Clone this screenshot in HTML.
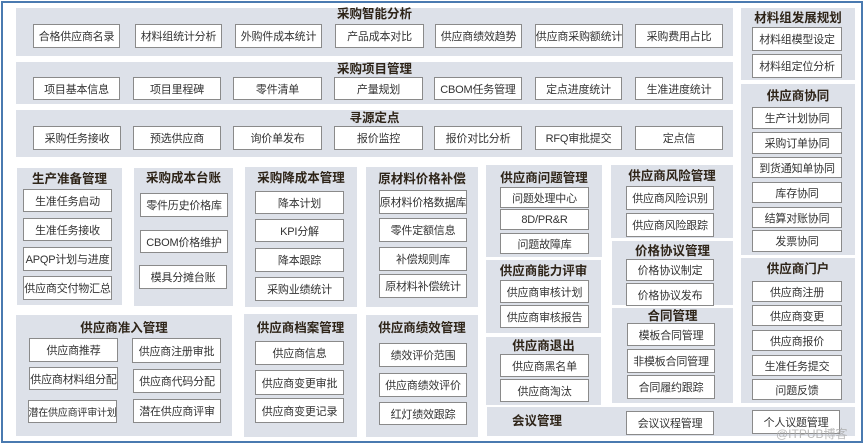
<!DOCTYPE html>
<html><head><meta charset="utf-8"><style>
*{margin:0;padding:0;box-sizing:border-box}
body{width:865px;height:445px;background:#fff;position:relative;overflow:hidden;font-family:"Liberation Sans","Noto Sans CJK SC",sans-serif}
#frame{position:absolute;left:1px;top:1px;width:862px;height:442px;border:2px solid #4a7ab0}
.p{position:absolute;background:#dde1e9}
.t{position:absolute;font-weight:bold;font-size:12.5px;line-height:14px;color:#2e2418;white-space:nowrap;text-align:center}
.b{position:absolute;background:#fff;border:1.5px solid #8a8a8a;font-size:11px;color:#333;display:flex;align-items:center;justify-content:center;white-space:nowrap;overflow:hidden;letter-spacing:-0.2px}
</style></head><body>
<div id="frame"></div>

<div class="p" style="left:16px;top:8px;width:717px;height:48px"></div>
<div class="t" style="left:16px;top:7px;width:717px">采购智能分析</div>
<div class="b" style="left:33px;top:24px;width:87px;height:24px">合格供应商名录</div>
<div class="b" style="left:135px;top:24px;width:87px;height:24px">材料组统计分析</div>
<div class="b" style="left:235px;top:24px;width:87px;height:24px">外购件成本统计</div>
<div class="b" style="left:335px;top:24px;width:89px;height:24px">产品成本对比</div>
<div class="b" style="left:435px;top:24px;width:87px;height:24px">供应商绩效趋势</div>
<div class="b" style="left:535px;top:24px;width:88px;height:24px">供应商采购额统计</div>
<div class="b" style="left:635px;top:24px;width:88px;height:24px">采购费用占比</div>

<div class="p" style="left:16px;top:62px;width:717px;height:42px"></div>
<div class="t" style="left:16px;top:62px;width:717px">采购项目管理</div>
<div class="b" style="left:33px;top:77px;width:87px;height:23px">项目基本信息</div>
<div class="b" style="left:133px;top:77px;width:88px;height:23px">项目里程碑</div>
<div class="b" style="left:233px;top:77px;width:89px;height:23px">零件清单</div>
<div class="b" style="left:334px;top:77px;width:89px;height:23px">产量规划</div>
<div class="b" style="left:434px;top:77px;width:88px;height:23px">CBOM任务管理</div>
<div class="b" style="left:535px;top:77px;width:87px;height:23px">定点进度统计</div>
<div class="b" style="left:635px;top:77px;width:88px;height:23px">生准进度统计</div>

<div class="p" style="left:16px;top:110px;width:717px;height:47px"></div>
<div class="t" style="left:16px;top:111px;width:717px">寻源定点</div>
<div class="b" style="left:33px;top:126px;width:88px;height:24px">采购任务接收</div>
<div class="b" style="left:133px;top:126px;width:88px;height:24px">预选供应商</div>
<div class="b" style="left:233px;top:126px;width:89px;height:24px">询价单发布</div>
<div class="b" style="left:334px;top:126px;width:89px;height:24px">报价监控</div>
<div class="b" style="left:434px;top:126px;width:88px;height:24px">报价对比分析</div>
<div class="b" style="left:535px;top:126px;width:87px;height:24px">RFQ审批提交</div>
<div class="b" style="left:635px;top:126px;width:88px;height:24px">定点信</div>

<div class="p" style="left:741px;top:8px;width:114px;height:72px"></div>
<div class="t" style="left:741px;top:11px;width:114px">材料组发展规划</div>
<div class="b" style="left:752px;top:27px;width:90px;height:24px">材料组模型设定</div>
<div class="b" style="left:752px;top:54px;width:90px;height:24px">材料组定位分析</div>

<div class="p" style="left:741px;top:84px;width:114px;height:171px"></div>
<div class="t" style="left:741px;top:89px;width:114px">供应商协同</div>
<div class="b" style="left:752px;top:107px;width:90px;height:22px">生产计划协同</div>
<div class="b" style="left:752px;top:132px;width:90px;height:22px">采购订单协同</div>
<div class="b" style="left:752px;top:157px;width:90px;height:21px">到货通知单协同</div>
<div class="b" style="left:752px;top:182px;width:90px;height:21px">库存协同</div>
<div class="b" style="left:752px;top:207px;width:90px;height:21px">结算对账协同</div>
<div class="b" style="left:752px;top:230px;width:90px;height:22px">发票协同</div>

<div class="p" style="left:741px;top:258px;width:114px;height:145px"></div>
<div class="t" style="left:741px;top:262px;width:114px">供应商门户</div>
<div class="b" style="left:752px;top:281px;width:90px;height:21px">供应商注册</div>
<div class="b" style="left:752px;top:305px;width:90px;height:21px">供应商变更</div>
<div class="b" style="left:752px;top:330px;width:90px;height:21px">供应商报价</div>
<div class="b" style="left:752px;top:355px;width:90px;height:21px">生准任务提交</div>
<div class="b" style="left:752px;top:379px;width:90px;height:21px">问题反馈</div>

<div class="p" style="left:17px;top:168px;width:105px;height:137px"></div>
<div class="t" style="left:17px;top:172px;width:105px">生产准备管理</div>
<div class="b" style="left:23px;top:189px;width:89px;height:23px">生准任务启动</div>
<div class="b" style="left:23px;top:218px;width:89px;height:23px">生准任务接收</div>
<div class="b" style="left:23px;top:247px;width:89px;height:24px">APQP计划与进度</div>
<div class="b" style="left:23px;top:276px;width:89px;height:24px">供应商交付物汇总</div>

<div class="p" style="left:134px;top:168px;width:99px;height:138px"></div>
<div class="t" style="left:134px;top:171px;width:99px">采购成本台账</div>
<div class="b" style="left:140px;top:193px;width:88px;height:24px">零件历史价格库</div>
<div class="b" style="left:140px;top:230px;width:88px;height:23px">CBOM价格维护</div>
<div class="b" style="left:139px;top:265px;width:88px;height:24px">模具分摊台账</div>

<div class="p" style="left:245px;top:167px;width:112px;height:140px"></div>
<div class="t" style="left:245px;top:171px;width:112px">采购降成本管理</div>
<div class="b" style="left:255px;top:191px;width:89px;height:23px">降本计划</div>
<div class="b" style="left:255px;top:219px;width:89px;height:23px">KPI分解</div>
<div class="b" style="left:255px;top:248px;width:89px;height:24px">降本跟踪</div>
<div class="b" style="left:255px;top:277px;width:89px;height:24px">采购业绩统计</div>

<div class="p" style="left:366px;top:167px;width:112px;height:140px"></div>
<div class="t" style="left:366px;top:172px;width:112px">原材料价格补偿</div>
<div class="b" style="left:379px;top:190px;width:88px;height:24px">原材料价格数据库</div>
<div class="b" style="left:379px;top:218px;width:88px;height:24px">零件定额信息</div>
<div class="b" style="left:379px;top:247px;width:88px;height:24px">补偿规则库</div>
<div class="b" style="left:379px;top:274px;width:88px;height:24px">原材料补偿统计</div>

<div class="p" style="left:16px;top:315px;width:216px;height:121px"></div>
<div class="t" style="left:16px;top:321px;width:216px">供应商准入管理</div>
<div class="b" style="left:29px;top:338px;width:89px;height:24px">供应商推荐</div>
<div class="b" style="left:29px;top:367px;width:89px;height:23px">供应商材料组分配</div>
<div class="b" style="left:28px;top:400px;width:89px;height:23px;font-size:10px">潜在供应商评审计划</div>
<div class="b" style="left:132px;top:338px;width:89px;height:25px">供应商注册审批</div>
<div class="b" style="left:133px;top:369px;width:88px;height:24px">供应商代码分配</div>
<div class="b" style="left:133px;top:399px;width:88px;height:24px">潜在供应商评审</div>

<div class="p" style="left:244px;top:314px;width:113px;height:123px"></div>
<div class="t" style="left:244px;top:321px;width:113px">供应商档案管理</div>
<div class="b" style="left:255px;top:341px;width:89px;height:24px">供应商信息</div>
<div class="b" style="left:255px;top:370px;width:89px;height:25px">供应商变更审批</div>
<div class="b" style="left:255px;top:398px;width:89px;height:25px">供应商变更记录</div>

<div class="p" style="left:366px;top:315px;width:112px;height:122px"></div>
<div class="t" style="left:366px;top:321px;width:112px">供应商绩效管理</div>
<div class="b" style="left:379px;top:343px;width:88px;height:24px">绩效评价范围</div>
<div class="b" style="left:379px;top:373px;width:88px;height:24px">供应商绩效评价</div>
<div class="b" style="left:379px;top:402px;width:88px;height:23px">红灯绩效跟踪</div>

<div class="p" style="left:486px;top:165px;width:116px;height:92px"></div>
<div class="t" style="left:486px;top:171px;width:116px">供应商问题管理</div>
<div class="b" style="left:500px;top:187px;width:89px;height:21px">问题处理中心</div>
<div class="b" style="left:500px;top:209px;width:89px;height:21px">8D/PR&amp;R</div>
<div class="b" style="left:500px;top:233px;width:89px;height:21px">问题故障库</div>

<div class="p" style="left:486px;top:260px;width:115px;height:73px"></div>
<div class="t" style="left:486px;top:264px;width:115px">供应商能力评审</div>
<div class="b" style="left:500px;top:280px;width:89px;height:23px">供应商审核计划</div>
<div class="b" style="left:500px;top:305px;width:89px;height:23px">供应商审核报告</div>

<div class="p" style="left:486px;top:337px;width:115px;height:68px"></div>
<div class="t" style="left:486px;top:339px;width:115px">供应商退出</div>
<div class="b" style="left:500px;top:354px;width:89px;height:23px">供应商黑名单</div>
<div class="b" style="left:500px;top:379px;width:89px;height:23px">供应商淘汰</div>

<div class="p" style="left:611px;top:165px;width:122px;height:73px"></div>
<div class="t" style="left:611px;top:169px;width:122px">供应商风险管理</div>
<div class="b" style="left:626px;top:186px;width:88px;height:24px">供应商风险识别</div>
<div class="b" style="left:626px;top:213px;width:88px;height:24px">供应商风险跟踪</div>

<div class="p" style="left:612px;top:241px;width:121px;height:64px"></div>
<div class="t" style="left:612px;top:244px;width:121px">价格协议管理</div>
<div class="b" style="left:626px;top:259px;width:88px;height:22px">价格协议制定</div>
<div class="b" style="left:626px;top:283px;width:88px;height:23px">价格协议发布</div>

<div class="p" style="left:612px;top:308px;width:121px;height:95px"></div>
<div class="t" style="left:612px;top:309px;width:121px">合同管理</div>
<div class="b" style="left:627px;top:323px;width:88px;height:23px">模板合同管理</div>
<div class="b" style="left:627px;top:349px;width:88px;height:24px">非模板合同管理</div>
<div class="b" style="left:627px;top:375px;width:88px;height:24px">合同履约跟踪</div>

<div class="p" style="left:487px;top:407px;width:368px;height:29px"></div>
<div class="t" style="left:512px;top:414px">会议管理</div>
<div class="b" style="left:626px;top:411px;width:88px;height:24px">会议议程管理</div>
<div class="b" style="left:752px;top:410px;width:88px;height:24px">个人议题管理</div>
<div style="position:absolute;left:776px;top:425px;font-size:12px;color:rgba(170,170,170,0.8);white-space:nowrap">@ITPUB博客</div>
</body></html>
